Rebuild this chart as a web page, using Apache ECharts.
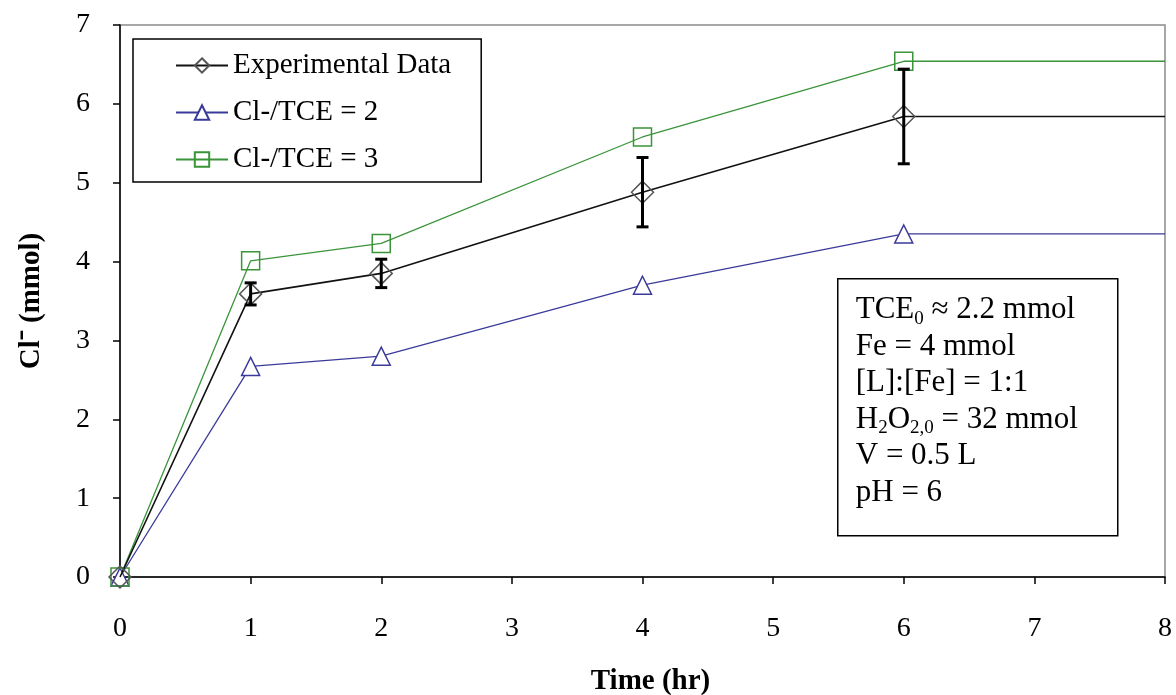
<!DOCTYPE html>
<html>
<head>
<meta charset="utf-8">
<script src="https://cdn.jsdelivr.net/npm/echarts@6/dist/echarts.min.js"></script>
<style>
  html, body { margin: 0; padding: 0; background: #fff; }
  #chart { width: 1176px; height: 695px; }
</style>
</head>
<body>
<div id="chart"></div>
<script>
// ---- data ----
const times = [0, 1, 2, 4, 6, 8];
const experimental = [0, 3.59, 3.85, 4.88, 5.84, 5.84];
const ratio2 = [0, 2.67, 2.80, 3.70, 4.35, 4.35];
const ratio3 = [0, 4.01, 4.23, 5.58, 6.54, 6.54];
const errTimes = [1, 2, 4, 6];
const errValues = [3.59, 3.85, 4.88, 5.84];
const errSizes = [0.14, 0.18, 0.44, 0.60];
const xTicks = [0, 1, 2, 3, 4, 5, 6, 7, 8];
const yTicks = [0, 1, 2, 3, 4, 5, 6, 7];
const seriesNames = ['Experimental Data', 'Cl-/TCE = 2', 'Cl-/TCE = 3'];
const noteLines = [
  'TCE{sub|0} ≈ 2.2 mmol',
  'Fe = 4 mmol',
  '[L]:[Fe] = 1:1',
  'H{sub|2}O{sub|2,0} = 32 mmol',
  'V = 0.5 L',
  'pH = 6'
];

const FONT = '"Liberation Serif", "Times New Roman", serif';

function buildData(vals) {
  return times.map((t, i) => {
    const item = { value: [t, vals[i]] };
    if (i === times.length - 1) item.symbol = 'none';
    return item;
  });
}

const chart = echarts.init(document.getElementById('chart'), null, { renderer: 'canvas' });

const option = {
  backgroundColor: '#ffffff',
  animation: false,
  grid: {
    left: 120, right: 11, top: 25, bottom: 118,
    containLabel: false, outerBoundsMode: 'none',
    show: true, borderColor: '#8a8a8a', borderWidth: 1.5
  },
  xAxis: {
    type: 'value', min: xTicks[0], max: xTicks[xTicks.length - 1], interval: 1,
    name: 'Time (hr)', nameLocation: 'middle', nameGap: 90,
    nameTextStyle: { fontFamily: FONT, fontSize: 29, fontWeight: 'bold', color: '#000', padding: [0, 0, 0, 16] },
    axisLine: { show: true, onZero: false, lineStyle: { color: '#000', width: 1.5 } },
    axisTick: { show: true, inside: false, length: 7, lineStyle: { color: '#000', width: 1.5 } },
    axisLabel: { fontFamily: FONT, fontSize: 28, color: '#000', margin: 38 },
    splitLine: { show: false }
  },
  yAxis: {
    type: 'value', min: yTicks[0], max: yTicks[yTicks.length - 1], interval: 1,
    name: 'Cl⁻ (mmol)', nameLocation: 'middle', nameGap: 74,
    nameTextStyle: { fontFamily: FONT, fontSize: 29, fontWeight: 'bold', color: '#000' },
    axisLine: { show: true, onZero: false, lineStyle: { color: '#000', width: 1.5 } },
    axisTick: { show: true, inside: false, length: 7, lineStyle: { color: '#000', width: 1.5 } },
    axisLabel: { fontFamily: FONT, fontSize: 28, color: '#000', margin: 30 },
    splitLine: { show: false }
  },
  legend: {
    show: true,
    orient: 'vertical',
    left: 133, top: 39,
    padding: [12, 30, 8, 42],
    itemGap: 18,
    itemWidth: 52, itemHeight: 18,
    borderColor: '#000', borderWidth: 1.5,
    backgroundColor: '#fff',
    textStyle: { fontFamily: FONT, fontSize: 29, color: '#000' },
    data: seriesNames
  },
  series: [
    {
      name: seriesNames[1], type: 'line', data: buildData(ratio2),
      symbol: 'triangle', symbolSize: 18, clip: false,
      lineStyle: { color: '#3a3a9a', width: 1.3 },
      itemStyle: { color: '#fff', borderColor: '#3a3a9a', borderWidth: 1.5 },
      z: 3
    },
    {
      name: seriesNames[2], type: 'line', data: buildData(ratio3),
      symbol: 'rect', symbolSize: 18, clip: false,
      lineStyle: { color: '#3a943a', width: 1.3 },
      itemStyle: { color: 'rgba(255,255,255,0)', borderColor: '#3a943a', borderWidth: 1.5 },
      z: 3
    },
    {
      name: seriesNames[0], type: 'line', data: buildData(experimental),
      symbol: 'diamond', symbolSize: 22, clip: false,
      lineStyle: { color: '#111', width: 1.6 },
      itemStyle: { color: 'rgba(255,255,255,0)', borderColor: '#555', borderWidth: 1.5 },
      z: 4
    },
    {
      name: 'err', type: 'custom', clip: false, z: 5,
      data: errTimes.map((t, i) => [t, errValues[i] - errSizes[i], errValues[i] + errSizes[i]]),
      renderItem: function (params, api) {
        const x = api.value(0);
        const lo = api.coord([x, api.value(1)]);
        const hi = api.coord([x, api.value(2)]);
        const cap = 6;
        const st = { stroke: '#000', lineWidth: 3 };
        return {
          type: 'group',
          children: [
            { type: 'line', shape: { x1: lo[0], y1: lo[1], x2: hi[0], y2: hi[1] }, style: st },
            { type: 'line', shape: { x1: lo[0] - cap, y1: lo[1], x2: lo[0] + cap, y2: lo[1] }, style: st },
            { type: 'line', shape: { x1: hi[0] - cap, y1: hi[1], x2: hi[0] + cap, y2: hi[1] }, style: st }
          ]
        };
      }
    }
  ],
  graphic: [
    {
      type: 'group', left: 837, top: 278,
      children: [
        {
          type: 'rect', shape: { x: 0, y: 0, width: 280, height: 257 },
          style: { fill: '#fff', stroke: '#000', lineWidth: 1.5 }
        },
        {
          type: 'text', left: 18, top: 13,
          style: {
            text: noteLines.join('\n'),
            font: '31px ' + FONT,
            fill: '#000',
            lineHeight: 36.5,
            rich: {
              sub: { fontFamily: FONT, fontSize: 19, verticalAlign: 'bottom', padding: [14, 0, 0, 0], lineHeight: 36.5 }
            }
          }
        }
      ]
    }
  ]
};

chart.setOption(option);
</script>
</body>
</html>
